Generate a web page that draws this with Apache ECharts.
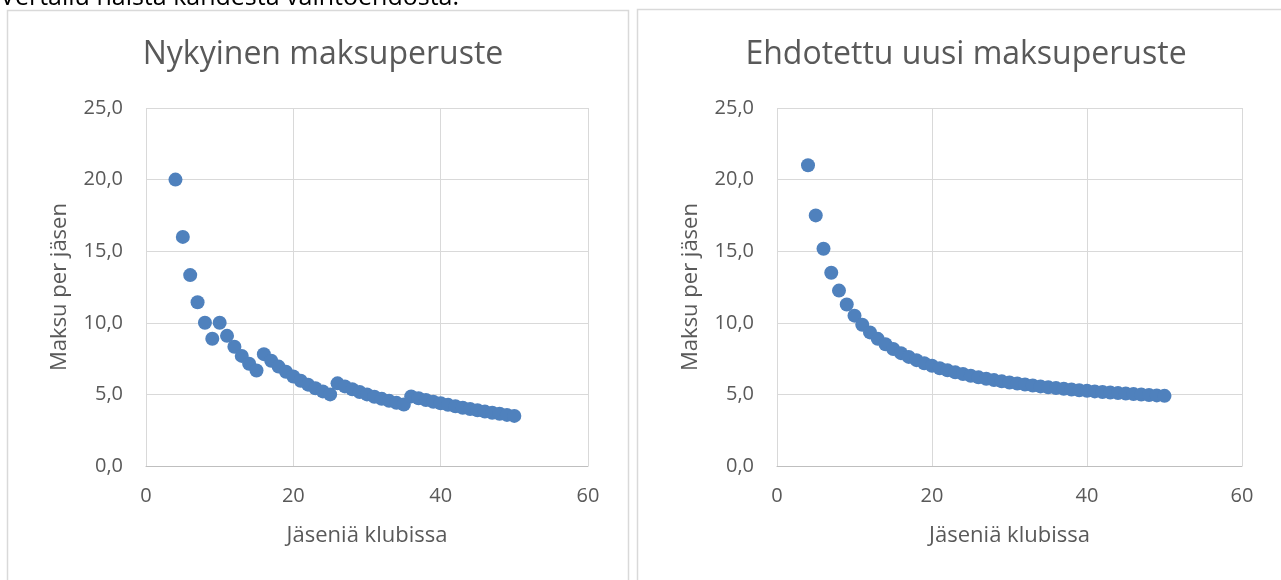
<!DOCTYPE html>
<html>
<head>
<meta charset="utf-8">
<script src="https://cdn.jsdelivr.net/npm/echarts@6/dist/echarts.min.js"></script>
<style>
  html, body { margin: 0; padding: 0; background: #fff; }
  #main { width: 1281px; height: 580px; }
</style>
</head>
<body>
<div id="main"></div>
<script>
// jäsenmäärät (x)
var members = [4, 5, 6, 7, 8, 9, 10, 11, 12, 13, 14, 15, 16, 17, 18, 19, 20, 21, 22, 23, 24, 25,
  26, 27, 28, 29, 30, 31, 32, 33, 34, 35, 36, 37, 38, 39, 40, 41, 42, 43, 44, 45, 46, 47, 48, 49, 50];
// nykyinen maksu per jäsen
var currentFee = [20.00, 16.00, 13.33, 11.43, 10.00, 8.89, 10.00, 9.09, 8.33, 7.69, 7.14, 6.67,
  7.81, 7.35, 6.94, 6.58, 6.25, 5.95, 5.68, 5.43, 5.21, 5.00,
  5.77, 5.56, 5.36, 5.17, 5.00, 4.84, 4.69, 4.55, 4.41, 4.29,
  4.86, 4.73, 4.61, 4.49, 4.38, 4.27, 4.17, 4.07, 3.98, 3.89, 3.80, 3.72, 3.65, 3.57, 3.50];
// ehdotettu uusi maksu per jäsen
var proposedFee = [21.00, 17.50, 15.17, 13.50, 12.25, 11.28, 10.50, 9.86, 9.33, 8.88, 8.50, 8.17,
  7.88, 7.62, 7.39, 7.18, 7.00, 6.83, 6.68, 6.54, 6.42, 6.30, 6.19, 6.09, 6.00, 5.91, 5.83,
  5.76, 5.69, 5.62, 5.56, 5.50, 5.44, 5.39, 5.34, 5.29, 5.25, 5.21, 5.17, 5.13, 5.09, 5.06,
  5.02, 4.99, 4.96, 4.93, 4.90];
var titles = ['Nykyinen maksuperuste', 'Ehdotettu uusi maksuperuste'];
var xName = 'Jäseniä klubissa';
var yName = 'Maksu per jäsen';

var FONT = '"Open Sans", sans-serif';
var GREY = '#595959';

function pairs(xs, ys) {
  return xs.map(function (x, i) { return [x, ys[i]]; });
}

function xAxis(idx) {
  return {
    type: 'value', gridIndex: idx, min: 0, max: 60, interval: 20,
    name: xName, nameLocation: 'middle', nameGap: 59,
    nameTextStyle: { color: GREY, fontSize: 22, fontFamily: FONT },
    axisLine: { show: true, onZero: false, lineStyle: { color: '#bfbfbf', width: 1 } },
    axisTick: { show: false },
    axisLabel: { color: GREY, fontSize: 20, fontFamily: FONT, margin: 20 },
    splitLine: { show: true, lineStyle: { color: '#d9d9d9', width: 1 } }
  };
}

function yAxis(idx) {
  return {
    type: 'value', gridIndex: idx, min: 0, max: 25, interval: 5,
    name: yName, nameLocation: 'middle', nameGap: 75,
    nameTextStyle: { color: GREY, fontSize: 22, fontFamily: FONT },
    axisLine: { show: false },
    axisTick: { show: false },
    axisLabel: {
      color: GREY, fontSize: 20, fontFamily: FONT, margin: 23,
      formatter: function (v) { return v.toFixed(1).replace('.', ','); }
    },
    splitLine: { show: true, lineStyle: { color: '#d9d9d9', width: 1 } }
  };
}

function series(idx, data) {
  return {
    type: 'scatter', xAxisIndex: idx, yAxisIndex: idx,
    data: data, symbolSize: 14,
    itemStyle: { color: '#4F81BD', opacity: 1 },
    silent: true
  };
}

var chart = echarts.init(document.getElementById('main'), null, { renderer: 'canvas' });
chart.setOption({
  animation: false,
  backgroundColor: '#fff',
  title: [
    { text: titles[0], left: 318, top: 34, textAlign: 'center',
      textStyle: { color: GREY, fontSize: 32, fontWeight: 'normal', fontFamily: FONT } },
    { text: titles[1], left: 961, top: 34, textAlign: 'center',
      textStyle: { color: GREY, fontSize: 32, fontWeight: 'normal', fontFamily: FONT } }
  ],
  graphic: [
    // leikkautunut otsikkorivi kuvan yläreunassa
    { type: 'text', x: 0, y: 10,
      style: { text: 'Vertailu näistä kahdesta vaihtoehdosta:', fill: '#000',
        font: '25px ' + FONT, verticalAlign: 'bottom' } },
    { type: 'rect', shape: { x: 7.5, y: 10.5, width: 621, height: 600 },
      style: { fill: '#fff', stroke: '#d9d9d9', lineWidth: 1.5 }, z: -1 },
    { type: 'rect', shape: { x: 637.5, y: 9.5, width: 700, height: 600 },
      style: { fill: '#fff', stroke: '#d9d9d9', lineWidth: 1.5 }, z: -1 }
  ],
  grid: [
    { left: 146, top: 108, width: 442, height: 358 },
    { left: 777, top: 108, width: 465, height: 358 }
  ],
  xAxis: [xAxis(0), xAxis(1)],
  yAxis: [yAxis(0), yAxis(1)],
  series: [series(0, pairs(members, currentFee)), series(1, pairs(members, proposedFee))]
});
</script>
</body>
</html>
